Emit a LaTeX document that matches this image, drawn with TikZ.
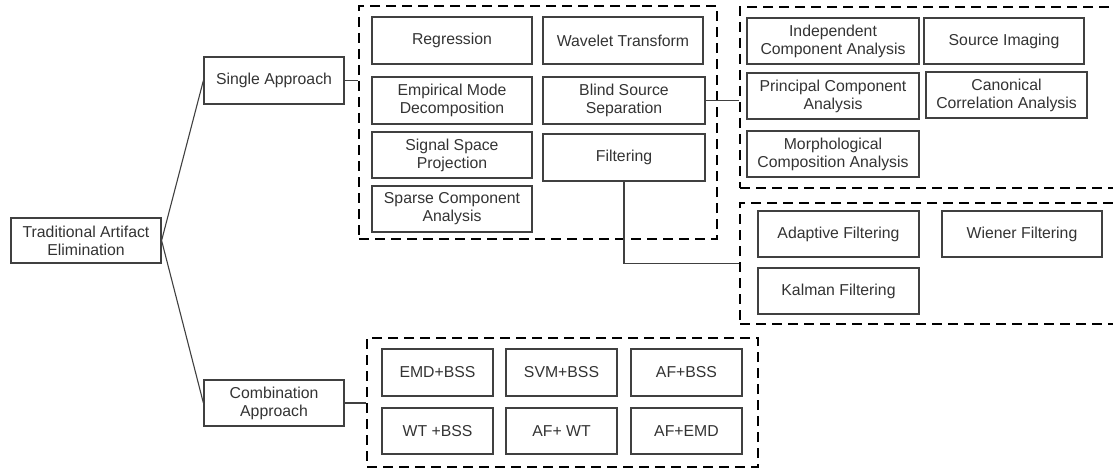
\documentclass[tikz,border=0pt]{standalone}
\usepackage{fontspec}
\setmainfont{Liberation Sans}
\usetikzlibrary{fit}
\definecolor{txt}{HTML}{333333}
\definecolor{bord}{HTML}{404040}
\tikzset{
  box/.style={draw=bord, line width=1.2pt, inner sep=0pt, align=center, text=txt,
    font=\fontsize{15.8}{18}\selectfont},
  grp/.style={draw=black, line width=2pt, dash pattern=on 10pt off 6pt, inner sep=0pt},
  conn/.style={draw=bord, line width=1.1pt},
}
\newcommand\bx[6]{\node[box, minimum width={#4-#2}, minimum height={#5-#3}] (#1) at ({(#2+#4)/2},{(#3+#5)/2}) {#6};}
\newcommand\grpbox[5]{\node[grp, minimum width={#4-#2}, minimum height={#5-#3}] (#1) at ({(#2+#4)/2},{(#3+#5)/2}) {};}
\begin{document}
\begin{tikzpicture}[x=1pt,y=-1pt]
\useasboundingbox (0,0) rectangle (1113,468);
% groups
\grpbox{d1}{359}{6}{717}{239}
\grpbox{d2}{740}{7}{1130}{188}
\grpbox{d3}{740}{203}{1130}{324}
\grpbox{d4}{367}{338}{758}{467}
% main
\bx{tae}{11}{218}{161}{263}{Traditional Artifact\\Elimination}
\bx{sa}{204}{57}{344}{104}{Single Approach}
\bx{ca}{204}{380}{344}{426}{Combination\\Approach}
% single approach
\bx{reg}{372}{17}{532}{64}{Regression}
\bx{emd}{372}{77}{532}{124}{Empirical Mode\\Decomposition}
\bx{ssp}{372}{132}{532}{178}{Signal Space\\Projection}
\bx{sca}{372}{186}{532}{232}{Sparse Component\\Analysis}
\bx{wt}{543}{17}{703}{64}{Wavelet Transform}
\bx{bss}{543}{77}{705}{124}{Blind Source\\Separation}
\bx{fil}{543}{134}{705}{181}{Filtering}
% BSS family
\bx{ica}{747}{18}{919}{64}{Independent\\Component Analysis}
\bx{si}{924}{18}{1084}{64}{Source Imaging}
\bx{pca}{747}{73}{919}{119}{Principal Component\\Analysis}
\bx{cca}{926}{72}{1087}{118}{Canonical\\Correlation Analysis}
\bx{mca}{747}{131}{919}{177}{Morphological\\Composition Analysis}
% filtering family
\bx{af}{758}{211}{919}{257}{Adaptive Filtering}
\bx{wf}{942}{211}{1102}{257}{Wiener Filtering}
\bx{kf}{758}{268}{919}{314}{Kalman Filtering}
% combinations
\bx{c1}{382}{349}{493}{396}{EMD+BSS}
\bx{c2}{506}{349}{617}{396}{SVM+BSS}
\bx{c3}{631}{349}{742}{396}{AF+BSS}
\bx{c4}{382}{408}{493}{454}{WT +BSS}
\bx{c5}{506}{408}{617}{454}{AF+ WT}
\bx{c6}{631}{408}{742}{454}{AF+EMD}
% connectors
\draw[conn] (tae.east) -- (sa.west);
\draw[conn] (tae.east) -- (ca.west);
\draw[conn] (sa.east) -- (sa.east -| d1.west);
\draw[conn] (ca.east) -- (ca.east -| d4.west);
\draw[conn] (bss.east) -- (bss.east -| d2.west);
\draw[conn] (fil.south) |- (d3.west);
\end{tikzpicture}
\end{document}
